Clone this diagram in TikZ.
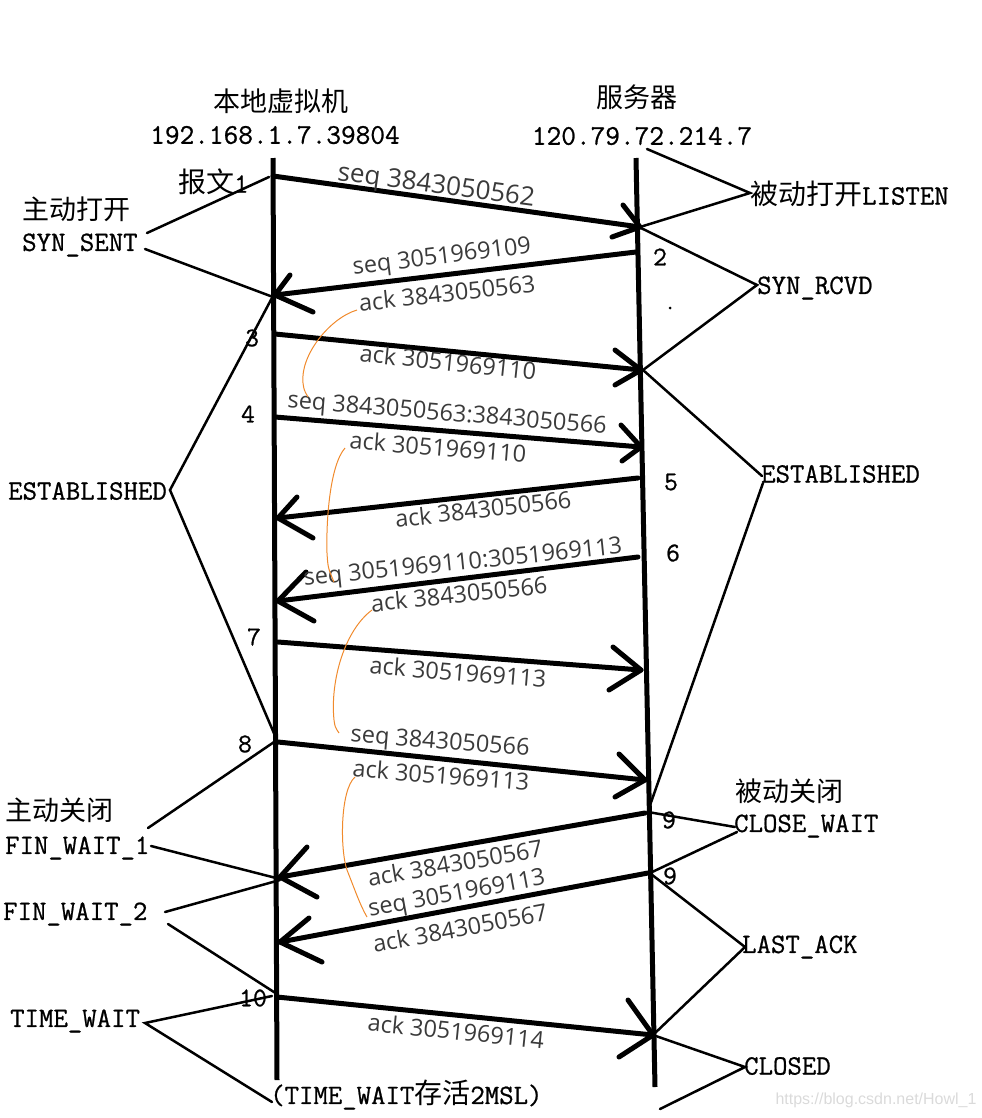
\documentclass[tikz,border=0pt]{standalone}
\usepackage{fontspec}
\newfontfamily\cjk{Noto Sans CJK SC}
\newfontfamily\lblfont{Open Sans}
\newfontfamily\wmfont{Liberation Sans}
\newfontfamily\stfont[FakeBold=0.8]{Latin Modern Mono}
\definecolor{lblgray}{HTML}{3A3A3A}
\definecolor{hintorange}{HTML}{F08A2C}
\definecolor{wmgray}{HTML}{DADADA}
\newcommand\drawmsg[5]{%
  \coordinate (#1s) at (#2); \coordinate (#1t) at (#3);
  \coordinate (#1a) at (#4); \coordinate (#1b) at (#5);
  \draw[msg] (#1s) -- (#1t); \draw[barb] (#1a) -- (#1t) -- (#1b);}
\tikzset{
  life/.style={line width=5bp},
  msg/.style={line width=5bp, line cap=round},
  barb/.style={line width=5bp, line cap=round, line join=round},
  brk/.style={line width=2.5bp, line cap=round, line join=miter},
  lbl/.style={font=\lblfont\fontsize{23.5bp}{28bp}\selectfont, text=lblgray, inner sep=0},
  st/.style={font=\stfont\fontsize{28bp}{32bp}\selectfont, inner sep=0, anchor=west},
  head/.style={font=\cjk\fontsize{27bp}{30bp}\selectfont, inner sep=0},
  ip/.style={font=\stfont\fontsize{28.5bp}{32bp}\selectfont, inner sep=0},
  num/.style={font=\stfont\fontsize{27bp}{30bp}\selectfont, inner sep=0},
  hint/.style={draw=hintorange, line width=1bp},
}
\begin{document}
\begin{tikzpicture}[x=1bp,y=-1bp]
\useasboundingbox (0,0) rectangle (982,1118);

% lifelines
\coordinate (Ltop) at (273,158); \coordinate (Lbot) at (277,1080);
\coordinate (Rtop) at (636,158); \coordinate (Rbot) at (655,1087);
\draw[life] (Ltop) -- (Lbot);
\draw[life] (Rtop) -- (Rbot);

% messages
\drawmsg{m1}{273,176}{640,227}{623,205}{612,237}
\drawmsg{m2}{636,252}{275,295}{290,275}{313,312}
\drawmsg{m3}{275,334}{641,370}{615,350}{615,385}
\drawmsg{m4}{275,417}{641,447}{621,425}{622,461}
\drawmsg{m5}{638,478}{278,518}{297,497}{313,538}
\drawmsg{m6}{638,557}{278,601}{306,572}{314,621}
\drawmsg{m7}{278,642}{641,670}{613,647}{609,690}
\drawmsg{m8}{278,742}{645,780}{619,754}{615,797}
\drawmsg{m9}{645,813}{280,877}{307,847}{317,897}
\drawmsg{m10}{648,873}{280,942}{309,918}{322,962}
\drawmsg{m11}{277,997}{653,1035}{628,1000}{619,1057}

% message labels
\node[lbl, font=\lblfont\fontsize{26bp}{30bp}\selectfont, rotate=-7.5] (t1) at (436,187) {seq 3843050562};
\node[lbl, rotate=7] (t2) at (442,258) {seq 3051969109};
\node[lbl, rotate=6.3] (t3) at (447,293) {ack 3843050563};
\node[lbl, rotate=-6] (t4) at (448,362) {ack 3051969110};
\node[lbl, rotate=-4.6] (t5) at (447,415) {seq 3843050563:3843050566};
\node[lbl, rotate=-4.6] (t6) at (438,447) {ack 3051969110};
\node[lbl, rotate=6.5] (t7) at (483,509) {ack 3843050566};
\node[lbl, rotate=5.8] (t8) at (463,564) {seq 3051969110:3051969113};
\node[lbl, rotate=6] (t9) at (459,594) {ack 3843050566};
\node[lbl, rotate=-4.6] (t10) at (458,672) {ack 3051969113};
\node[lbl, rotate=-4.7] (t11) at (440,743) {seq 3843050566};
\node[lbl, rotate=-4.5] (t12) at (441,775) {ack 3051969113};
\node[lbl, rotate=9.8] (t13) at (455,863) {ack 3843050567};
\node[lbl, rotate=10.5] (t14) at (457,895) {seq 3051969113};
\node[lbl, rotate=10.6] (t15) at (460,928) {ack 3843050567};
\node[lbl, rotate=-5.8] (t16) at (456,1031) {ack 3051969114};

% headings
\node[head] (hL) at (281,101) {本地虚拟机};
\node[ip] (ipL) at (275,135) {192.168.1.7.39804};
\node[head] (hR) at (637,97) {服务器};
\node[ip] (ipR) at (642,136) {120.79.72.214.7};

% state labels
\node[st, font=\cjk\fontsize{27bp}{30bp}\selectfont] (zdkk) at (22,209) {主动打开};
\node[st] (synsent) at (22,245) {SYN\_SENT};
\node[st] (bw1) at (178,182) {{\cjk 报文}1};
\node[st] (listen) at (750,194) {{\cjk 被动打开}LISTEN};
\node[st] (synrcvd) at (757,288) {SYN\_RCVD};
\node[st] (estL) at (8,491) {ESTABLISHED};
\node[st] (estR) at (761,474) {ESTABLISHED};
\node[st, font=\cjk\fontsize{27bp}{30bp}\selectfont] (zdgb) at (5,810) {主动关闭};
\node[st] (fw1) at (5,848) {FIN\_WAIT\_1};
\node[st] (fw2) at (3,914) {FIN\_WAIT\_2};
\node[st] (tw) at (10,1021) {TIME\_WAIT};
\node[st] (twnote) at (270,1095) {(TIME\_WAIT{\cjk 存活}2MSL)};
\node[st, font=\cjk\fontsize{27bp}{30bp}\selectfont] (bdgb) at (735,791) {被动关闭};
\node[st] (cw) at (734,826) {CLOSE\_WAIT};
\node[st] (lastack) at (742,947) {LAST\_ACK};
\node[st] (closed) at (744,1066) {CLOSED};

% numbers
\node[num] (n2) at (660,257) {2};
\node[num] (n3) at (252,338) {3};
\node[num] (n4) at (248,414) {4};
\node[num] (n5) at (671,482) {5};
\node[num] (n6) at (673,553) {6};
\node[num] (n7) at (254,637) {7};
\node[num] (n8) at (245,744) {8};
\node[num] (n9a) at (669,820) {9};
\node[num] (n9b) at (670,876) {9};
\node[num] (n10) at (253,998) {10};
\fill (670,308) circle (1.5bp);

% bracket lines
\draw[brk] (147,233) -- (269,177);
\draw[brk] (145,249) -- (273,297);
\draw[brk] (647,149) -- (750,193) -- (640,227);
\draw[brk] (641,228) -- (757,285) -- (643,370);
\draw[brk] (643,370) -- (762,476);
\draw[brk] (763,483) -- (648,811);
\draw[brk] (273,296) -- (170,490) -- (276,738);
\draw[brk] (148,828) -- (277,740);
\draw[brk] (151,846) -- (280,879);
\draw[brk] (165,912) -- (280,880);
\draw[brk] (168,924) -- (277,994);
\draw[brk] (272,996) -- (145,1023) -- (272,1102);
\draw[brk] (648,812) -- (735,827);
\draw[brk] (737,832) -- (650,873);
\draw[brk] (651,874) -- (745,947) -- (653,1035);
\draw[brk] (653,1035) -- (745,1067) -- (660,1109);

% orange hint curves
\draw[hint] (357,310) .. controls (330,318) and (300,355) .. (303,383) .. controls (304,390) .. (308,397);
\draw[hint] (345,448) .. controls (330,465) and (326,520) .. (327,553) .. controls (328,568) .. (334,582);
\draw[hint] (372,610) .. controls (345,630) and (330,680) .. (334,720) .. controls (335,727) .. (339,733);
\draw[hint] (355,777) .. controls (340,790) and (340,850) .. (347,870) .. controls (355,890) and (360,905) .. (367,917);

% watermark
\node[font=\wmfont\fontsize{16bp}{18bp}\selectfont, text=wmgray, inner sep=0] (wm) at (876,1100) {https://blog.csdn.net/Howl\_1};
\end{tikzpicture}
\end{document}
